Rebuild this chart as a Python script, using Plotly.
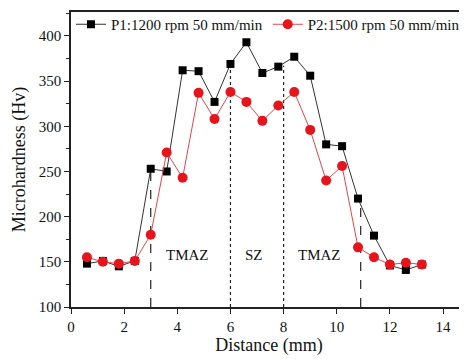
import plotly.graph_objects as go

distance = [0.6, 1.2, 1.8, 2.4, 3.0, 3.6, 4.2, 4.8, 5.4, 6.0, 6.6, 7.2, 7.8, 8.4, 9.0, 9.6, 10.2, 10.8, 11.4, 12.0, 12.6, 13.2]
p1_hv = [148, 151, 145, 151, 253, 250, 362, 361, 327, 369, 393, 359, 366, 377, 356, 280, 278, 220, 179, 146, 141, 147]
p2_hv = [155, 150, 148, 151, 180, 271, 243, 337, 308, 338, 327, 306, 323, 338, 296, 240, 256, 166, 155, 147, 149, 147]

zone_x = [3.0, 6.0, 8.0, 10.9]
zone_top = [253, 369, 367, 219]
zone_dash = ["dash", "dot", "dot", "dash"]

zone_labels = ["TMAZ", "SZ", "TMAZ"]
zone_label_x = [4.4, 6.9, 9.35]
zone_label_y = [158, 158, 158]

FONT = "Liberation Serif, Times New Roman, serif"

fig = go.Figure()

for zx, zt, zd in zip(zone_x, zone_top, zone_dash):
    fig.add_trace(go.Scatter(x=[zx, zx], y=[100, zt], mode="lines",
                             line=dict(color="#222222", width=1.2, dash=zd),
                             showlegend=False, hoverinfo="skip"))

fig.add_trace(go.Scatter(x=distance, y=p1_hv, mode="lines+markers",
                         name="P1:1200 rpm 50 mm/min",
                         line=dict(color="#333333", width=1),
                         marker=dict(symbol="square", size=8, color="#000000")))
fig.add_trace(go.Scatter(x=distance, y=p2_hv, mode="lines+markers",
                         name="P2:1500 rpm 50 mm/min",
                         line=dict(color="#e0474a", width=1),
                         marker=dict(symbol="circle", size=10, color="#e8141b")))

for t, lx, ly in zip(zone_labels, zone_label_x, zone_label_y):
    fig.add_annotation(x=lx, y=ly, text=t, showarrow=False,
                       font=dict(family=FONT, size=15, color="#111111"))

# page body has an 8px margin, so the figure is sized to end at the window edge
fig.update_layout(
    width=459, height=351,
    margin=dict(l=63, r=0, t=1, b=52),
    paper_bgcolor="white", plot_bgcolor="white",
    font=dict(family=FONT, size=15, color="#111111"),
    legend=dict(orientation="h", x=0.0, y=1.015, xanchor="left", yanchor="top",
                bgcolor="rgba(0,0,0,0)", font=dict(family=FONT, size=15),
                borderwidth=0),
    showlegend=True,
)
fig.update_xaxes(range=[0, 14.9], tickvals=[0, 2, 4, 6, 8, 10, 12, 14],
                 showline=True, linecolor="#222222", linewidth=1.5, mirror=True,
                 ticks="outside", ticklen=5, tickcolor="#222222",
                 showgrid=False, zeroline=False, automargin=False,
                 title=dict(text="Distance (mm)", font=dict(family=FONT, size=18), standoff=4),
                 tickfont=dict(family=FONT, size=15))
fig.update_yaxes(range=[100, 426.5], tickvals=[100, 150, 200, 250, 300, 350, 400],
                 showline=True, linecolor="#222222", linewidth=1.5, mirror=False,
                 ticks="outside", ticklen=5, tickcolor="#222222",
                 minor=dict(tickvals=[125, 175, 225, 275, 325, 375, 425], ticks="outside", ticklen=3, tickcolor="#222222"),
                 showgrid=False, zeroline=False, automargin=False,
                 title=dict(text="Microhardness (Hv)", font=dict(family=FONT, size=18), standoff=8),
                 tickfont=dict(family=FONT, size=15))

fig.write_html("out.html")
